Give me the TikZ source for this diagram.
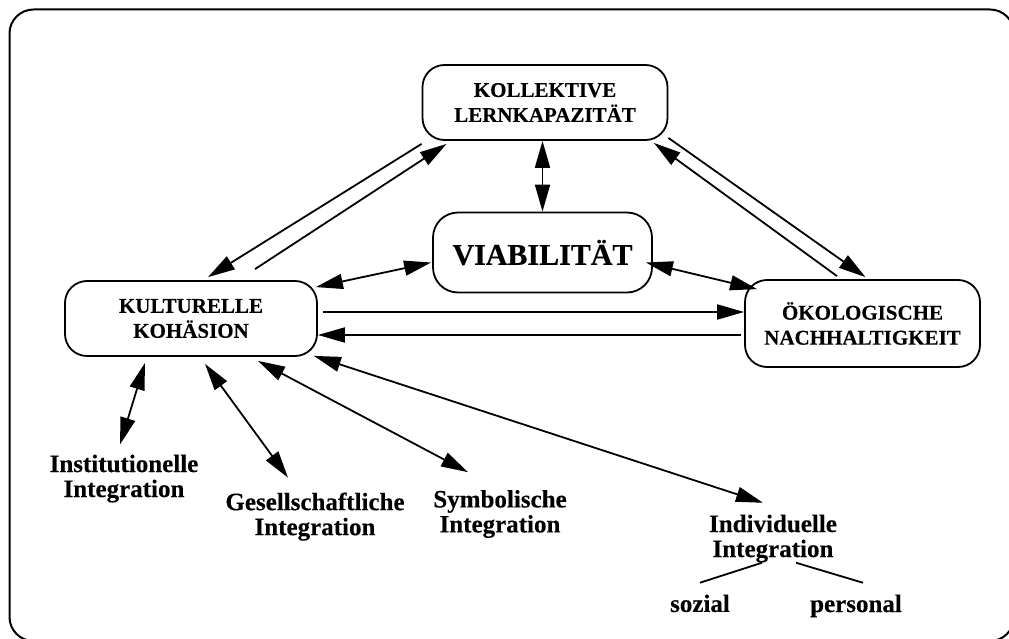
\documentclass[tikz,border=0pt]{standalone}
\usepackage{fontspec}
\setmainfont{Liberation Serif}[BoldFeatures={FakeBold=0.3}]
\usetikzlibrary{arrows.meta,calc}
\begin{document}
\begin{tikzpicture}[x=1pt,y=-1pt,
  box/.style={draw, line width=1.8pt, rounded corners=22pt, align=center, inner sep=0pt, font=\fontsize{21}{25}\selectfont\bfseries},
  lbl/.style={align=center, inner sep=0pt, font=\fontsize{25}{25}\selectfont\bfseries},
  tip/.tip={Triangle[length=27pt,width=15pt]},
  conn/.style={line width=1.8pt, -tip},
  bi/.style={line width=1.8pt, tip-tip},
  plain/.style={line width=1.8pt}]
\useasboundingbox (0,0) rectangle (1009,639);
\begin{scope}
\clip (0,0) rectangle (1009,639);
\draw[line width=2pt, rounded corners=24pt] (9.5,9.5) rectangle (1014,641);
\end{scope}

\node[box, minimum width=245pt, minimum height=75pt] (kol) at (545,102.5) {KOLLEKTIVE\\LERNKAPAZITÄT};
\node[box, minimum width=219pt, minimum height=80pt, font=\fontsize{30}{32}\selectfont\bfseries, rounded corners=25pt] (via) at (542.5,252.5) {VIABILITÄT};
\node[box, minimum width=252pt, minimum height=75pt] (kul) at (191,318.5) {KULTURELLE\\KOHÄSION};
\node[box, minimum width=235pt, minimum height=87pt] (oko) at (862.5,323.5) {ÖKOLOGISCHE\\NACHHALTIGKEIT};

\node[lbl] (inst) at (124,478.6) {Institutionelle\\Integration};
\node[lbl] (ges) at (315,516.6) {Gesellschaftliche\\Integration};
\node[lbl] (sym) at (500,514) {Symbolische\\Integration};
\node[lbl] (ind) at (773,538.6) {Individuelle\\Integration};
\node[lbl] (soz) at (700,603.4) {sozial};
\node[lbl] (per) at (856,606) {personal};

% Kollektive <-> Viabilitaet
\draw[bi] (via.north |- kol.south) -- (via.north);
% Kollektive <-> Kulturelle
\draw[conn] ([yshift=-3pt]kol.south west) -- ([xshift=17pt,yshift=3pt]kul.north);
\draw[conn] ([xshift=64pt,yshift=11pt]kul.north) -- ([xshift=25pt,yshift=-3pt]kol.south west);
% Kollektive <-> Oekologische
\draw[conn] ([yshift=3pt]kol.south east) -- ([xshift=3pt,yshift=2pt]oko.north);
\draw[conn] ([xshift=-25.5pt,yshift=3pt]oko.north) -- ([xshift=-14.5pt,yshift=-2pt]kol.south east);
% Viabilitaet <-> Kulturelle / Oekologische
\draw[bi] ([xshift=-2pt,yshift=-7pt]kul.north east) -- ([xshift=-1pt,yshift=-10pt]via.west);
\draw[bi] ([xshift=-7pt,yshift=-10pt]via.east) -- ([xshift=13pt,yshift=-10pt]oko.north west);
% Kulturelle <-> Oekologische
\coordinate (h1) at ([xshift=5pt,yshift=6.5pt]kul.east);
\coordinate (h2) at ([yshift=-16.5pt]kul.east);
\draw[conn] (h1) -- (h1 -| oko.west);
\draw[conn] ([xshift=-3pt]h2 -| oko.west) -- (h2);
% Kulturelle <-> Integration labels
\draw[bi] ([xshift=-46pt,yshift=-6pt]kul.south) -- ([xshift=-4pt,yshift=10pt]inst.north);
\draw[bi] ([xshift=14pt,yshift=-7pt]kul.south) -- ([xshift=-27pt,yshift=14.7pt]ges.north);
\draw[bi] ([xshift=67pt,yshift=-4pt]kul.south) -- ([xshift=-32pt,yshift=17.7pt]sym.north);
\draw[bi] ([xshift=-4pt,yshift=1pt]kul.south east) -- ([xshift=-10pt,yshift=11.7pt]ind.north);
% Individuelle -> sozial / personal
\draw[plain] ([yshift=11.7pt]soz.north) -- ([xshift=-11pt]ind.south);
\draw[plain] ([xshift=23pt]ind.south) -- ([xshift=7pt,yshift=11.7pt]per.north);
\end{tikzpicture}
\end{document}
